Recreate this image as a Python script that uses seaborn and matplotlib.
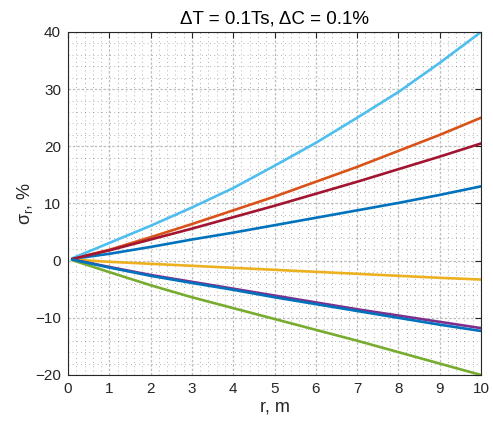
import numpy as np
import pandas as pd
import matplotlib
matplotlib.use("Agg")
import matplotlib.pyplot as plt
import seaborn as sns
from matplotlib.ticker import MultipleLocator

# Distance along the radius, m
r_m = [0.1, 1, 2, 3, 4, 5, 6, 7, 8, 9, 10]

# Relative error of the radius estimate, %, one list per case
s1 = [0.3, 1.2, 2.4, 3.7, 4.9, 6.2, 7.5, 8.8, 10.1, 11.5, 13.0]
s2 = [0.3, 1.9, 4.1, 6.4, 8.8, 11.2, 13.8, 16.4, 19.2, 22.0, 25.0]
s3 = [0.2, -0.2, -0.55, -0.9, -1.25, -1.6, -1.95, -2.3, -2.65, -3.0, -3.3]
s4 = [0.2, -1.1, -2.5, -3.7, -4.9, -6.1, -7.3, -8.5, -9.6, -10.7, -11.8]
s5 = [0.1, -2.0, -4.3, -6.4, -8.3, -10.2, -12.1, -14.0, -16.0, -18.0, -20.0]
s6 = [0.4, 3.1, 6.1, 9.3, 12.7, 16.6, 20.6, 25.0, 29.5, 34.6, 40.0]
s7 = [0.3, 1.8, 3.7, 5.6, 7.6, 9.6, 11.7, 13.8, 16.0, 18.2, 20.5]
s8 = [0.2, -1.2, -2.65, -3.9, -5.1, -6.4, -7.6, -8.8, -10.0, -11.2, -12.3]

series = [s1, s2, s3, s4, s5, s6, s7, s8]
colors = ["#0072BD", "#D95319", "#EDB120", "#7E2F8E", "#77AC30",
          "#4DBEEE", "#A2142F", "#0072BD"]

df = pd.DataFrame({
    "r": np.tile(r_m, len(series)),
    "sigma": np.concatenate(series),
    "case": np.repeat([f"c{i+1}" for i in range(len(series))], len(r_m)),
})

sns.set_theme(style="white")
plt.rcParams["font.family"] = ["Liberation Sans", "DejaVu Sans"]
plt.rcParams["mathtext.fontset"] = "custom"
plt.rcParams["mathtext.rm"] = "Liberation Sans"
plt.rcParams["mathtext.it"] = "Liberation Sans:italic"

fig = plt.figure(figsize=(4.93, 4.21), dpi=100)
ax = fig.add_axes([68 / 493, 46 / 421, 413 / 493, 343 / 421])

sns.lineplot(data=df, x="r", y="sigma", hue="case", palette=colors,
             linewidth=1.9, legend=False, ax=ax, sort=False)

ax.set_xlim(0, 10)
ax.set_ylim(-20, 40)
ax.xaxis.set_major_locator(MultipleLocator(1))
ax.xaxis.set_minor_locator(MultipleLocator(0.2))
ax.yaxis.set_major_locator(MultipleLocator(10))
ax.yaxis.set_minor_locator(MultipleLocator(2))

ax.grid(which="minor", color="black", linestyle=(0, (1, 4)), linewidth=0.6, alpha=0.4)
ax.grid(which="major", color="#bdbdbd", linestyle=(0, (2, 1.5)), linewidth=0.9)
ax.set_axisbelow(True)

ax.tick_params(which="major", direction="in", length=4, width=0.8,
               top=True, right=True, labelsize=11, colors="#262626", pad=5)
ax.tick_params(which="minor", length=0)
for sp in ax.spines.values():
    sp.set_color("#262626")
    sp.set_linewidth(0.8)

ax.set_title("ΔT = 0.1Ts, ΔC = 0.1%", fontsize=13.5, color="black", pad=6)
ax.set_xlabel("r, m", fontsize=13, color="#262626", labelpad=2)
ax.set_ylabel(r"σ$_{\mathrm{r}}$, %", fontsize=13, color="#262626", labelpad=0)

fig.savefig("out.png", dpi=100)
